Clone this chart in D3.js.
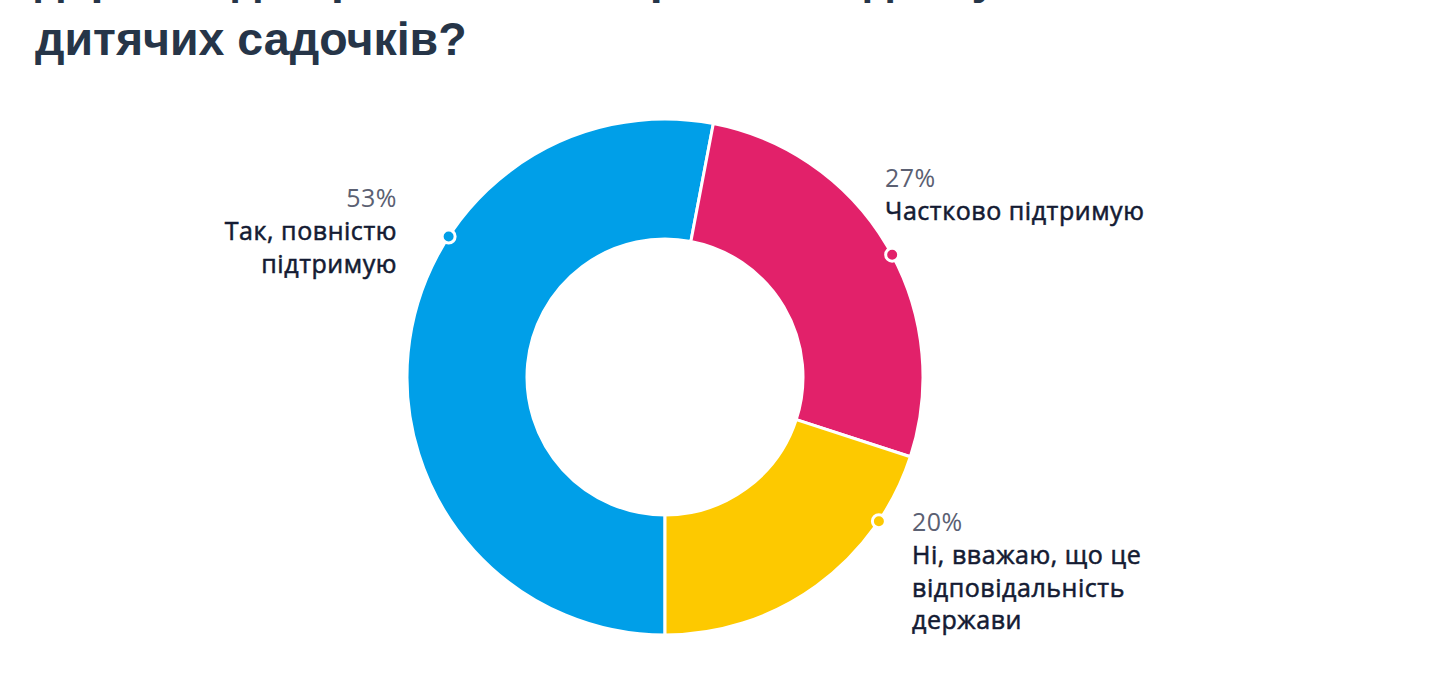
<!DOCTYPE html>
<html>
<head>
<meta charset="utf-8">
<script src="https://cdn.jsdelivr.net/npm/d3@7"></script>
<style>
  html, body { margin: 0; padding: 0; background: #ffffff; overflow: hidden; }
  svg { display: block; }
</style>
</head>
<body>
<svg id="chart" width="1440" height="700"></svg>
<script>
// ---- data ----
const titleLines = ["державі для розв'язання проблеми доступності", "дитячих садочків?"];
const categories = ["Так, повністю підтримую", "Частково підтримую", "Ні, вважаю, що це відповідальність держави"];
const labelLines = [["Так, повністю", "підтримую"], ["Частково підтримую"], ["Ні, вважаю, що це", "відповідальність", "держави"]];
const values = [53, 27, 20];
const colors = ["#009fe8", "#e2216a", "#fdc900"];

// ---- layout ----
const cx = 665, cy = 377, outerR = 258, innerR = 138;
const labelLayout = [
  { dotAngle: 303, x: -268, y: -170, anchor: "end" },
  { dotAngle: 61.7, x: 220, y: -190, anchor: "start" },
  { dotAngle: 124, x: 247, y: 154, anchor: "start" }
];

const svg = d3.select("#chart");

// title
const title = svg.append("g").attr("class", "title");
title.selectAll("text").data(titleLines).join("text")
  .attr("x", 35)
  .attr("y", (d, i) => i === 0 ? -7 : 55)
  .attr("font-family", "'Liberation Sans', Arial, sans-serif")
  .attr("font-weight", 700)
  .attr("font-size", 46.5)
  .attr("fill", "#263548")
  .text(d => d);

const pie = d3.pie().sort(null).value(d => d)
  .startAngle(Math.PI).endAngle(3 * Math.PI);
const arcs = pie(values);
const arc = d3.arc().innerRadius(innerR).outerRadius(outerR);

const g = svg.append("g").attr("transform", `translate(${cx},${cy})`);
g.selectAll("path.slice").data(arcs).join("path")
  .attr("class", "slice")
  .attr("d", arc)
  .attr("fill", (d, i) => colors[i])
  .attr("stroke", "#ffffff")
  .attr("stroke-width", 3)
  .attr("stroke-linejoin", "round");

// dots
const rad = a => a * Math.PI / 180;
g.selectAll("circle.dot").data(labelLayout).join("circle")
  .attr("class", "dot")
  .attr("cx", d => outerR * Math.sin(rad(d.dotAngle)))
  .attr("cy", d => -outerR * Math.cos(rad(d.dotAngle)))
  .attr("r", 6.5)
  .attr("fill", (d, i) => colors[i])
  .attr("stroke", "#ffffff")
  .attr("stroke-width", 3);

// labels
const labels = g.selectAll("g.label").data(arcs).join("g")
  .attr("class", "label")
  .attr("transform", (d, i) => `translate(${labelLayout[i].x},${labelLayout[i].y})`);

labels.append("text")
  .attr("text-anchor", (d, i) => labelLayout[i].anchor)
  .attr("font-family", "'Open Sans', 'Noto Sans', sans-serif")
  .attr("font-size", 25)
  .attr("font-weight", 400)
  .attr("letter-spacing", 0.5)
  .attr("fill", "#5b6072")
  .text(d => d.data + "%");

labels.each(function(d, i) {
  d3.select(this).selectAll("text.cat").data(labelLines[i]).join("text")
    .attr("class", "cat")
    .attr("text-anchor", labelLayout[i].anchor)
    .attr("y", (t, j) => 33 + j * 32.5)
    .attr("font-family", "'Open Sans', 'Noto Sans', sans-serif")
    .attr("font-size", 25)
    .attr("font-weight", 500)
    .attr("letter-spacing", 0.55)
    .attr("fill", "#141b33")
    .attr("stroke", "#141b33")
    .attr("stroke-width", 0.55)
    .text(t => t);
});
</script>
</body>
</html>
